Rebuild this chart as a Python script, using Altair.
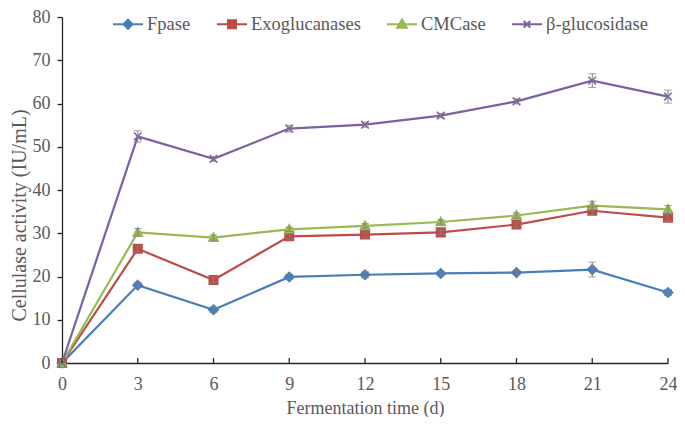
import altair as alt
import pandas as pd

# ---- data ----
days = [0, 3, 6, 9, 12, 15, 18, 21, 24]
series_names = ["Fpase", "Exoglucanases", "CMCase", "β-glucosidase"]
fpase = [0, 18.0, 12.3, 19.9, 20.4, 20.7, 20.9, 21.6, 16.3]
exoglucanases = [0, 26.4, 19.2, 29.3, 29.7, 30.2, 32.0, 35.2, 33.6]
cmcase = [0, 30.2, 29.0, 30.9, 31.7, 32.6, 34.1, 36.4, 35.5]
bglucosidase = [0, 52.4, 47.2, 54.2, 55.1, 57.2, 60.5, 65.3, 61.6]
fpase_err = [0, 0.6, 0.6, 0.6, 0.7, 0.5, 0.5, 1.7, 0.7]
exo_err = [0, 0.7, 0.6, 0.6, 0.6, 0.5, 0.6, 0.9, 0.8]
cmc_err = [0, 0.9, 0.6, 0.5, 0.5, 0.5, 0.6, 1.0, 0.9]
bglu_err = [0, 1.3, 0.6, 0.8, 0.6, 0.5, 0.6, 1.6, 1.5]
x_ticks = [0, 3, 6, 9, 12, 15, 18, 21, 24]
y_ticks = [0, 10, 20, 30, 40, 50, 60, 70, 80]

# ---- styles ----
colors = ["#4a7ebb", "#be4b48", "#98b954", "#7d60a0"]
marker_paths = [
    "M0,-1L1,0L0,1L-1,0Z",
    "M-0.9,-0.9L0.9,-0.9L0.9,0.9L-0.9,0.9Z",
    "M0,-1L1,0.75L-1,0.75Z",
    "M-0.8,-0.8L0.8,0.8M-0.8,0.8L0.8,-0.8",
]
legend_paths = [
    "M-1,0L1,0M0,-0.3L0.3,0L0,0.3L-0.3,0Z",
    "M-1,0L1,0M-0.27,-0.27L0.27,-0.27L0.27,0.27L-0.27,0.27Z",
    "M-1,0L1,0M0,-0.32L0.32,0.24L-0.32,0.24Z",
    "M-1,0L1,0M-0.22,-0.22L0.22,0.22M-0.22,0.22L0.22,-0.22",
]
FONT = "Liberation Serif"
TEXT = "#595959"
AXIS = "#262626"
ERR = "#7f7f7f"
W, H = 606, 346

rows = []
for name, vals, errs in zip(series_names,
                            [fpase, exoglucanases, cmcase, bglucosidase],
                            [fpase_err, exo_err, cmc_err, bglu_err]):
    for d, v, e in zip(days, vals, errs):
        rows.append({"day": d, "value": v, "lo": v - e, "hi": v + e, "series": name})
df = pd.DataFrame(rows)
tick_df = pd.DataFrame({"day": x_ticks})

xscale = alt.Scale(domain=[0, 24], nice=False, zero=False)
yscale = alt.Scale(domain=[0, 80], nice=False)
cscale = alt.Scale(domain=series_names, range=colors)
lshape = alt.Scale(domain=series_names, range=legend_paths)

x_enc = alt.X("day:Q", scale=xscale, title="Fermentation time (d)", axis=alt.Axis(
    values=x_ticks, ticks=False, labelPadding=12, labelFlush=False,
    titleFontSize=18, titlePadding=6))
y_enc = alt.Y("value:Q", scale=yscale, title="Cellulase activity (IU/mL)", axis=alt.Axis(
    values=y_ticks, tickSize=5, labelPadding=7, titleFontSize=20, titlePadding=3,
    titleY=198))

base = alt.Chart(df)

line_layers = []
point_layers = []
for i, (name, col, path) in enumerate(zip(series_names, colors, marker_paths)):
    sub = base.transform_filter(alt.datum.series == name)
    if i == 0:
        enc = dict(x=x_enc, y=y_enc)
    else:
        enc = dict(x="day:Q", y="value:Q")
    line_layers.append(sub.mark_line(color=col, strokeWidth=2.2).encode(**enc))
    point_layers.append(
        sub.mark_point(
            filled=True, size=90, strokeWidth=1.5, opacity=1,
            color=col, fill=col, stroke=col, shape=path,
        ).encode(x="day:Q", y="value:Q")
    )

legend = alt.Legend(
    orient="none", legendX=50, legendY=-9, direction="horizontal", title=None,
    symbolSize=900, symbolOpacity=1, symbolStrokeWidth=2,
    labelFont=FONT, labelFontSize=18.5, labelColor=TEXT,
    labelOffset=3, columnPadding=22,
)
legend_layer = base.mark_point(filled=True, opacity=0).encode(
    x="day:Q", y="value:Q",
    color=alt.Color("series:N", scale=cscale, legend=legend, sort=series_names),
    stroke=alt.Stroke("series:N", scale=cscale, legend=legend, sort=series_names),
    shape=alt.Shape("series:N", scale=lshape, legend=legend, sort=series_names),
)

err_rule = base.mark_rule(color=ERR, strokeWidth=1).encode(
    x="day:Q", y="lo:Q", y2="hi:Q",
)
cap_lo = base.mark_tick(color=ERR, orient="horizontal", size=8, thickness=1).encode(
    x="day:Q", y="lo:Q",
)
cap_hi = base.mark_tick(color=ERR, orient="horizontal", size=8, thickness=1).encode(
    x="day:Q", y="hi:Q",
)

xticks_in = alt.Chart(tick_df).mark_rule(color=AXIS, strokeWidth=1.3).encode(
    x="day:Q",
    y=alt.value(H - 5),
    y2=alt.value(H),
)

chart = alt.layer(*line_layers, *point_layers, legend_layer, err_rule, cap_lo, cap_hi,
                  xticks_in).properties(
    width=W, height=H,
    padding={"left": 54, "top": 9, "right": 9, "bottom": 54},
    autosize=alt.AutoSizeParams(type="none"),
    background="white",
).configure_view(stroke=None).configure_axis(
    grid=False, domainColor=AXIS, domainWidth=1.3, tickColor=AXIS, tickWidth=1.3,
    labelFont=FONT, labelFontSize=18, labelColor=TEXT,
    titleFont=FONT, titleColor=TEXT, titleFontWeight="normal",
)

chart.save("out.html", embed_options={"renderer": "svg", "actions": False})
